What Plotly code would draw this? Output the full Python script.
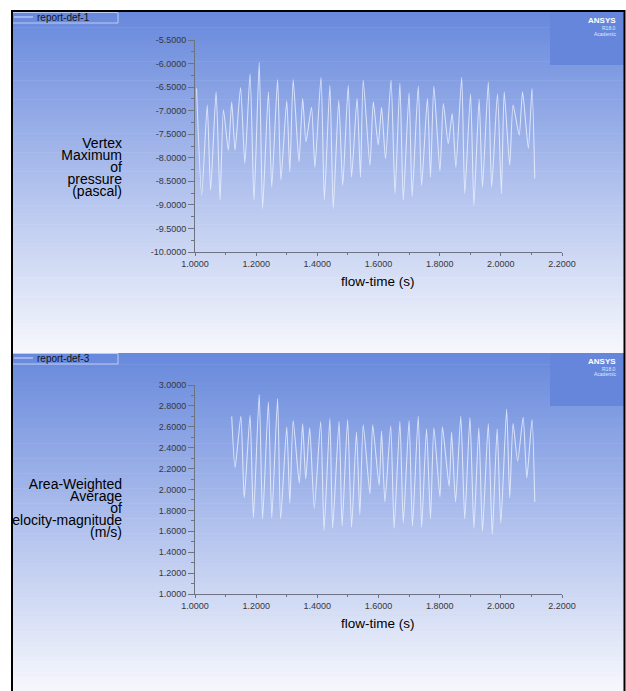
import plotly.graph_objects as go

W, H = 626, 691

# report-def-1 : Vertex Maximum of pressure (pascal) vs flow-time (s)
t_pressure = [1.005, 1.022, 1.040, 1.051, 1.069, 1.082, 1.093, 1.109, 1.120, 1.131,
              1.149, 1.163, 1.180, 1.193, 1.210, 1.221, 1.240, 1.251, 1.270, 1.281,
              1.300, 1.310, 1.321, 1.340, 1.352, 1.363, 1.381, 1.392, 1.412, 1.423,
              1.441, 1.452, 1.470, 1.483, 1.501, 1.512, 1.530, 1.541, 1.550, 1.572,
              1.583, 1.599, 1.610, 1.623, 1.641, 1.654, 1.670, 1.681, 1.700, 1.710,
              1.730, 1.741, 1.760, 1.770, 1.781, 1.801, 1.812, 1.828, 1.841, 1.853,
              1.872, 1.882, 1.901, 1.912, 1.929, 1.940, 1.959, 1.970, 1.989, 2.002,
              2.011, 2.029, 2.040, 2.060, 2.071, 2.090, 2.102, 2.111]
pressure = [-6.53, -8.80, -6.88, -8.69, -6.60, -8.90, -6.98, -7.84, -6.81, -7.84,
            -6.51, -8.12, -6.22, -8.90, -5.98, -9.08, -6.60, -8.62, -6.34, -8.47,
            -6.79, -8.30, -6.34, -8.09, -6.74, -7.66, -6.93, -8.20, -6.29, -8.89,
            -6.46, -9.08, -6.78, -8.59, -6.46, -8.41, -6.74, -8.41, -6.35, -8.16,
            -6.81, -7.73, -6.93, -8.02, -6.35, -8.76, -6.42, -8.90, -6.62, -8.82,
            -6.48, -8.59, -6.74, -8.41, -6.48, -8.28, -6.85, -7.70, -7.06, -8.20,
            -6.29, -8.76, -6.64, -9.01, -6.76, -8.62, -6.39, -8.62, -6.64, -8.76,
            -6.60, -8.16, -6.88, -7.52, -6.60, -7.80, -6.53, -8.44]

# report-def-3 : Area-Weighted Average of velocity-magnitude (m/s) vs flow-time (s)
t_velocity = [1.120, 1.131, 1.150, 1.161, 1.180, 1.191, 1.210, 1.221, 1.240, 1.251,
              1.270, 1.280, 1.300, 1.310, 1.321, 1.341, 1.352, 1.362, 1.375, 1.390,
              1.411, 1.422, 1.441, 1.450, 1.471, 1.481, 1.499, 1.512, 1.528, 1.539,
              1.550, 1.572, 1.581, 1.602, 1.610, 1.621, 1.640, 1.651, 1.670, 1.681,
              1.700, 1.711, 1.730, 1.741, 1.757, 1.770, 1.781, 1.801, 1.809, 1.831,
              1.839, 1.852, 1.869, 1.882, 1.899, 1.912, 1.928, 1.940, 1.959, 1.972,
              1.988, 2.000, 2.019, 2.029, 2.040, 2.055, 2.073, 2.085, 2.102, 2.111]
velocity = [2.70, 2.21, 2.70, 1.92, 2.71, 1.73, 2.91, 1.72, 2.84, 1.73,
            2.87, 1.72, 2.60, 1.87, 2.66, 2.06, 2.63, 2.10, 2.59, 1.82,
            2.65, 1.61, 2.68, 1.63, 2.65, 1.65, 2.67, 1.64, 2.55, 1.76,
            2.62, 1.96, 2.62, 2.04, 2.56, 1.88, 2.61, 1.63, 2.65, 1.68,
            2.66, 1.65, 2.70, 1.64, 2.58, 1.72, 2.59, 1.93, 2.60, 2.03,
            2.55, 1.88, 2.70, 1.72, 2.69, 1.63, 2.59, 1.60, 2.63, 1.57,
            2.58, 1.68, 2.77, 1.92, 2.63, 2.27, 2.69, 2.11, 2.67, 1.88]

time_ticks = [1.0, 1.2, 1.4, 1.6, 1.8, 2.0, 2.2]
time_labels = ["1.0000", "1.2000", "1.4000", "1.6000", "1.8000", "2.0000", "2.2000"]
pressure_ticks = [-10.0, -9.5, -9.0, -8.5, -8.0, -7.5, -7.0, -6.5, -6.0, -5.5]
pressure_labels = ["-10.0000", "-9.5000", "-9.0000", "-8.5000", "-8.0000",
                   "-7.5000", "-7.0000", "-6.5000", "-6.0000", "-5.5000"]
velocity_ticks = [1.0, 1.2, 1.4, 1.6, 1.8, 2.0, 2.2, 2.4, 2.6, 2.8, 3.0]
velocity_labels = ["1.0000", "1.2000", "1.4000", "1.6000", "1.8000", "2.0000",
                   "2.2000", "2.4000", "2.6000", "2.8000", "3.0000"]

panels = [
    dict(name="report-def-1", title=["Vertex", "Maximum", "of", "pressure", "(pascal)"],
         top=12, bottom=353, ax_top=40, ax_bottom=252, title_y=144),
    dict(name="report-def-3",
         title=["Area-Weighted", "Average", "of", "velocity-magnitude", "(m/s)"],
         top=353, bottom=691, ax_top=385, ax_bottom=594, title_y=485),
]

X0, X1 = 195, 562          # plot area left / right edge (px)
TITLE_RIGHT = 122          # right edge of the y-title block (px)
LINE_STEP = 12.2           # y-title line spacing (px)


def fx(px):
    return px / W


def fy(py):
    return 1 - py / H


def mix(c0, c1, f):
    return "rgb(%d,%d,%d)" % tuple(round(a + (b - a) * f) for a, b in zip(c0, c1))


TOP_C = (103, 136, 220)
BOT_C = (247, 248, 253)

fig = go.Figure()
shapes, annotations = [], []

for k, p in enumerate(panels):
    # vertical blue-to-white gradient background of the panel
    n = 90
    h = (p["bottom"] - p["top"]) / n
    for i in range(n):
        y0 = p["top"] + i * h
        shapes.append(dict(type="rect", xref="paper", yref="paper", layer="below",
                           x0=fx(12), x1=fx(624), y0=fy(y0), y1=fy(y0 + h + 0.6),
                           line_width=0, fillcolor=mix(TOP_C, BOT_C, (i + 0.5) / n)))
    # ANSYS badge
    shapes.append(dict(type="rect", xref="paper", yref="paper", layer="below",
                       x0=fx(550), x1=fx(624), y0=fy(p["top"]), y1=fy(p["top"] + 53),
                       line_width=0, fillcolor="rgb(102,134,219)"))
    annotations += [
        dict(text="<b>ANSYS</b>", x=fx(618), y=fy(p["top"] + 8.5), xanchor="right",
             yanchor="middle", showarrow=False, xref="paper", yref="paper",
             font=dict(family="Liberation Sans, Arial", size=8, color="white")),
        dict(text="R18.0", x=fx(618), y=fy(p["top"] + 16), xanchor="right",
             yanchor="middle", showarrow=False, xref="paper", yref="paper",
             font=dict(family="Liberation Sans, Arial", size=5, color="rgb(225,232,250)")),
        dict(text="Academic", x=fx(618), y=fy(p["top"] + 21.5), xanchor="right",
             yanchor="middle", showarrow=False, xref="paper", yref="paper",
             font=dict(family="Liberation Sans, Arial", size=5, color="rgb(225,232,250)")),
    ]
    # legend box with sample line
    shapes.append(dict(type="rect", xref="paper", yref="paper", layer="below",
                       x0=fx(12.5), x1=fx(118), y0=fy(p["top"] + 0.5), y1=fy(p["top"] + 11),
                       line=dict(color="rgba(200,212,242,0.9)", width=1),
                       fillcolor="rgba(0,0,0,0)"))
    shapes.append(dict(type="line", xref="paper", yref="paper", layer="below",
                       x0=fx(14), x1=fx(33), y0=fy(p["top"] + 5), y1=fy(p["top"] + 5),
                       line=dict(color="rgba(235,240,255,0.85)", width=1)))
    annotations.append(dict(text=p["name"], x=fx(35), y=fy(p["top"] + 5.5),
                            xanchor="left", yanchor="middle", showarrow=False,
                            xref="paper", yref="paper",
                            font=dict(family="Liberation Sans, Arial", size=10,
                                      color="rgb(20,20,30)")))
    # x-axis title
    annotations.append(dict(text="flow-time (s)", x=fx(378),
                            y=fy(p["ax_bottom"] + 29), xanchor="center", yanchor="middle",
                            showarrow=False, xref="paper", yref="paper",
                            font=dict(family="Liberation Sans, Arial", size=13.5,
                                      color="black")))

# data traces
line_style = dict(color="rgba(236,241,255,0.8)", width=1.1, shape="spline", smoothing=0.6)
fig.add_trace(go.Scatter(x=t_pressure, y=pressure, mode="lines", xaxis="x", yaxis="y",
                         line=line_style, showlegend=False, hoverinfo="skip"))
fig.add_trace(go.Scatter(x=t_velocity, y=velocity, mode="lines", xaxis="x2", yaxis="y2",
                         line=line_style, showlegend=False, hoverinfo="skip"))

# y-axis titles: text on a pixel-space overlay that clips at the left frame
for p in panels:
    ys = [p["title_y"] + i * LINE_STEP for i in range(len(p["title"]))]
    fig.add_trace(go.Scatter(x=[TITLE_RIGHT] * len(ys), y=ys, text=p["title"],
                             mode="text", textposition="middle left",
                             textfont=dict(family="Liberation Sans, Arial", size=14,
                                           color="black"),
                             xaxis="x3", yaxis="y3", cliponaxis=True,
                             showlegend=False, hoverinfo="skip"))

axis_font = dict(family="Liberation Sans, Arial", size=9, color="rgb(55,55,60)")
axis_line = "rgb(110,115,130)"


def xaxis(domain, anchor):
    return dict(domain=domain, anchor=anchor, range=[1.0, 2.2], tickmode="array",
                tickvals=time_ticks, ticktext=time_labels, ticks="outside", ticklen=3,
                tickcolor=axis_line, showline=True, linecolor=axis_line, linewidth=1,
                showgrid=False, zeroline=False, tickfont=axis_font, automargin=False,
                minor=dict(tickmode="linear", tick0=1.1, dtick=0.2, ticklen=2,
                           tickcolor=axis_line), fixedrange=True)


def yaxis(domain, anchor, rng, vals, labels, minor0, mdt):
    return dict(domain=domain, anchor=anchor, range=rng, tickmode="array",
                tickvals=vals, ticktext=labels, ticks="outside", ticklen=6,
                tickcolor=axis_line, showline=True, linecolor=axis_line, linewidth=1,
                showgrid=False, zeroline=False, tickfont=axis_font, automargin=False,
                minor=dict(tickmode="linear", tick0=minor0, dtick=mdt, ticklen=3,
                           tickcolor=axis_line), fixedrange=True)


p1, p2 = panels
xdom = [fx(X0), fx(X1)]
fig.update_layout(
    width=W, height=H, autosize=False,
    margin=dict(l=0, r=0, t=0, b=0, pad=0, autoexpand=False),
    paper_bgcolor="white", plot_bgcolor="rgba(0,0,0,0)",
    xaxis=xaxis(xdom, "y"),
    yaxis=yaxis([fy(p1["ax_bottom"]), fy(p1["ax_top"])], "x", [-10.0, -5.5],
                pressure_ticks, pressure_labels, -9.75, 0.5),
    xaxis2=xaxis(xdom, "y2"),
    yaxis2=yaxis([fy(p2["ax_bottom"]), fy(p2["ax_top"])], "x2", [1.0, 3.0],
                 velocity_ticks, velocity_labels, 1.1, 0.2),
    xaxis3=dict(domain=[fx(12.5), 1], range=[12.5, W], visible=False, anchor="y3",
                fixedrange=True, automargin=False),
    yaxis3=dict(domain=[0, 1], range=[H, 0], visible=False, anchor="x3",
                fixedrange=True, automargin=False),
    shapes=shapes, annotations=annotations, showlegend=False,
)

# black frame on the left, top and right
for s in [dict(x0=fx(12), x1=fx(12), y0=fy(10), y1=fy(H)),
          dict(x0=fx(11), x1=fx(625), y0=fy(11), y1=fy(11)),
          dict(x0=fx(624.5), x1=fx(624.5), y0=fy(10), y1=fy(H))]:
    fig.add_shape(type="line", xref="paper", yref="paper", layer="above",
                  line=dict(color="black", width=2), **s)

fig.write_html("out.html")
